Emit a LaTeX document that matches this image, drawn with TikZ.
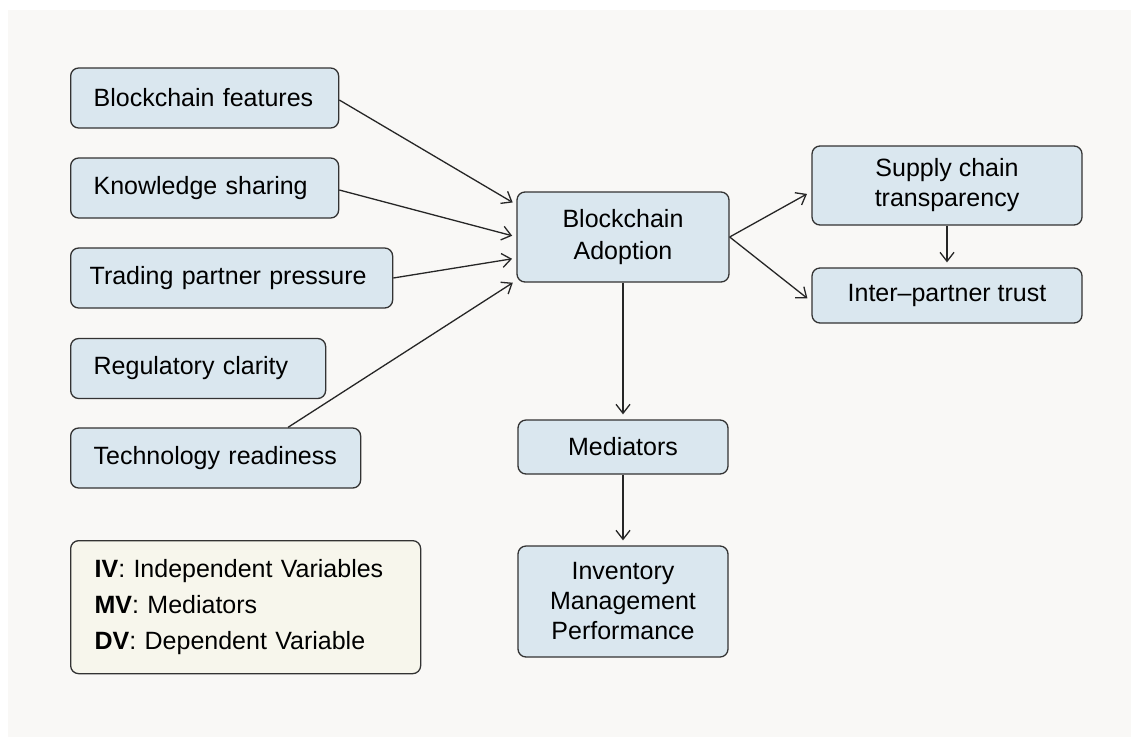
\documentclass[tikz,border=0pt]{standalone}
\usepackage{fontspec}
\setmainfont{Liberation Sans}
\usetikzlibrary{arrows.meta,positioning}
\definecolor{panel}{HTML}{F9F8F6}
\definecolor{boxfill}{HTML}{DAE7EF}
\definecolor{legfill}{HTML}{F7F6EC}
\definecolor{edge}{HTML}{333333}
\tikzset{
  box/.style={draw=edge, line width=1.3pt, fill=boxfill, rounded corners=8pt, font=\fontsize{25}{31}\selectfont, text=black},
  ivbox/.style={box, anchor=west, inner xsep=23pt, minimum height=60pt, align=left, text width=#1},
  cbox/.style={box, align=center},
  link/.style={draw=black!85, line width=1.3pt, -{Straight Barb[length=9pt,width=14pt]}, shorten >=5pt}
}
\begin{document}
\begin{tikzpicture}[x=1pt,y=-1pt]
\useasboundingbox (0,0) rectangle (1131,737);
\fill[white] (0,0) rectangle (1131,737);
\fill[panel] (8,10) rectangle (1131,737);
% independent variables
\node[ivbox=222pt] (bf) at (70,98) {Blockchain features};
\node[ivbox=222pt] (ks) at (70,188) {Knowledge sharing};
\node[ivbox=284pt, inner xsep=19pt] (tp) at (70,278) {Trading partner pressure};
\node[ivbox=209pt] (rc) at (70,368.5) {Regulatory clarity};
\node[ivbox=244pt] (tr) at (70,458) {Technology readiness};
% center
\node[cbox, minimum width=212pt, minimum height=90pt, font=\fontsize{25}{32}\selectfont] (ba) at (623,237) {Blockchain\\Adoption};
\node[cbox, minimum width=270pt, minimum height=79pt, font=\fontsize{25}{30}\selectfont] (sc) at (947,185.5) {Supply chain\\transparency};
\node[cbox, minimum width=270pt, minimum height=55pt] (it) at (947,295.5) {Inter–partner trust};
\node[cbox, minimum width=210pt, minimum height=54pt] (me) at (623,447) {Mediators};
\node[cbox, minimum width=210pt, minimum height=111pt, font=\fontsize{25}{30}\selectfont] (im) at (623,601.5) {Inventory\\Management\\Performance};
% legend
\node[draw=edge, line width=1.3pt, fill=legfill, rounded corners=8pt, minimum width=350pt, minimum height=133pt, anchor=north west, align=left, text width=302pt, inner xsep=24pt, font=\fontsize{25}{36}\selectfont] (lg) at (70,540)
  {\textbf{IV}: Independent Variables\\\textbf{MV}: Mediators\\\textbf{DV}: Dependent Variable};
% connectors
\coordinate (baw1) at (517,205);
\coordinate (baw2) at (517,237);
\coordinate (baw3) at (517,258);
\coordinate (baw4) at (517,280);
\draw[link] (bf.east) ++(0,2) -- (baw1);
\draw[link] (ks.east) ++(0,2) -- (baw2);
\draw[link] (tp.east) -- (baw3);
\draw[link] ([xshift=218pt]tr.north west) -- (baw4);
\draw[link] (ba.east) -- ([yshift=-6pt]sc.west);
\draw[link] (ba.east) -- ([yshift=-6pt]it.west);
\draw[link] (sc.south) -- (it.north);
\draw[link] (ba.south) -- (me.north);
\draw[link] (me.south) -- (im.north);
\end{tikzpicture}
\end{document}
